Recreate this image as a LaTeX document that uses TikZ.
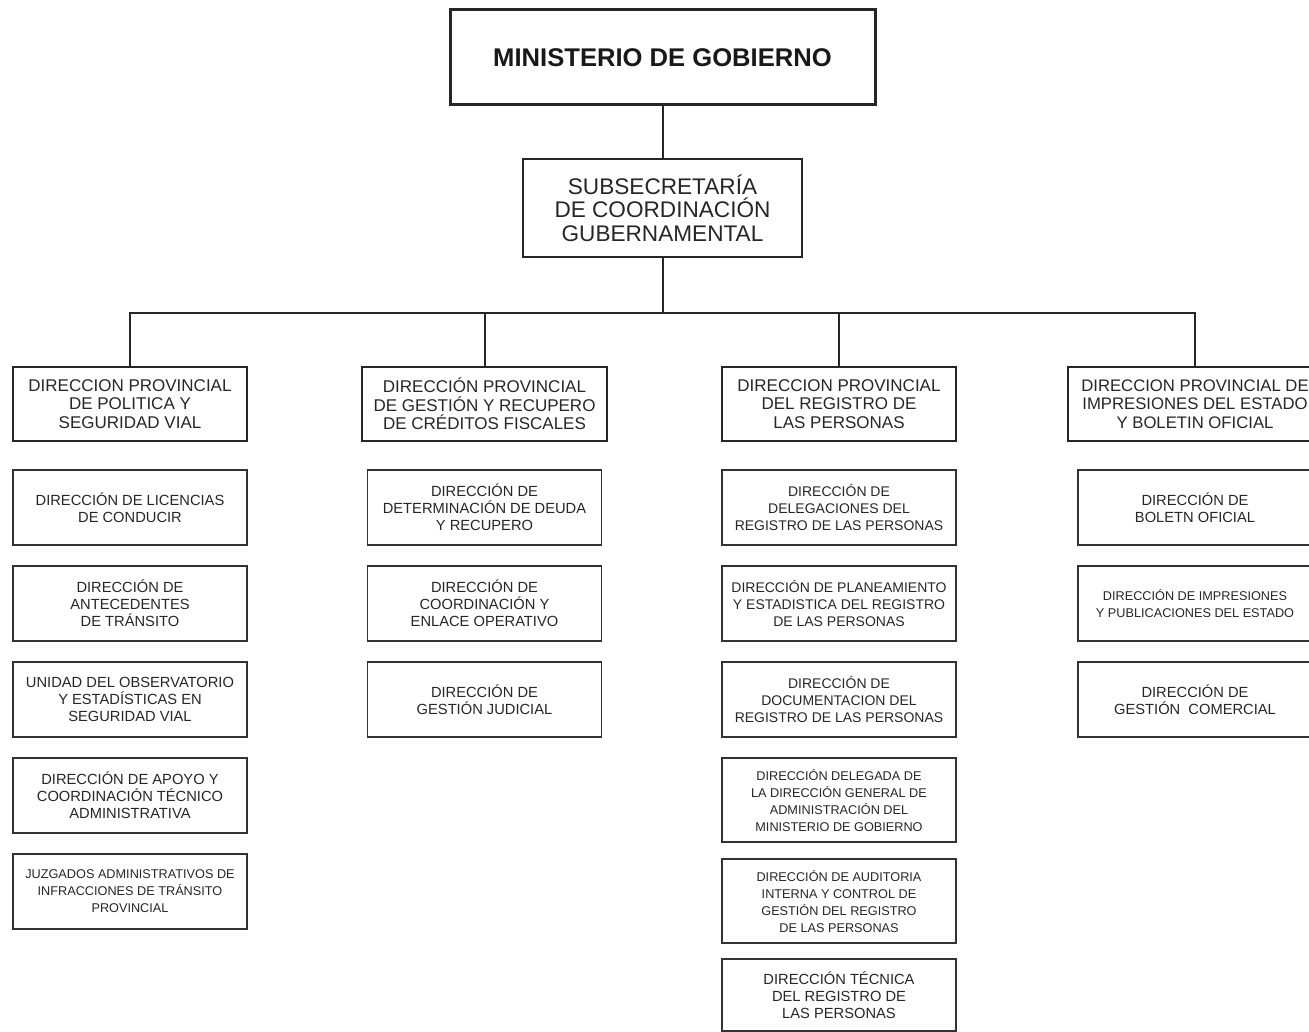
\documentclass[tikz,border=0pt]{standalone}
\usepackage{fontspec}
\setmainfont{Liberation Sans}
\usetikzlibrary{positioning}

\begin{document}
\begin{tikzpicture}[x=1pt,y=-1pt]
        \tikzset{headblock/.style= {draw=black!85, line width=3pt, rectangle, align=center, text=black!90, minimum width=425pt, minimum height=95pt, font=\fontsize{25.6}{30}\selectfont\bfseries},
        subblock/.style={draw=black!85, line width=1.8pt, rectangle, align=center, text=black!85, minimum width=279pt, minimum height=98pt, font=\fontsize{22.6}{23.5}\selectfont},
        block/.style={draw=black!85, line width=2.5pt, rectangle, inner sep=2pt, align=center, text=black!85, minimum width=234pt, minimum height=74pt, font=\fontsize{17}{18.5}\selectfont},
        dblock/.style={draw=black!80, line width=1.6pt, rectangle, inner sep=2pt, align=center, text=black!85, minimum width=234pt, minimum height=75pt, font=\fontsize{14.7}{17}\selectfont},
        sdblock/.style={dblock, font=\fontsize{12.7}{17}\selectfont},
        }
        \useasboundingbox (0,0) rectangle (1309,1032);

        \node [headblock] (ministerio) at (662.5,57.5) {MINISTERIO DE GOBIERNO};
        \node [subblock, below =51.6pt of ministerio] (subsec) {SUBSECRETARÍA\\DE COORDINACIÓN\\GUBERNAMENTAL};
        \node [coordinate, below =55pt of subsec] (bus) {};  %% Coordinate on the horizontal bar

        \node [block] (politica) at (130,404) {DIRECCION PROVINCIAL\\DE POLITICA Y\\SEGURIDAD VIAL};
        \node [block, right =112.5pt of politica, minimum width=245pt] (creditos) {DIRECCIÓN PROVINCIAL\\DE GESTIÓN Y RECUPERO\\DE CRÉDITOS FISCALES};
        \node [block, right =112.5pt of creditos] (registro) {DIRECCION PROVINCIAL\\DEL REGISTRO DE\\LAS PERSONAS};
        \node [block, right =109.5pt of registro, minimum width=254pt, font=\fontsize{16.7}{18.5}\selectfont] (impresiones) {DIRECCION PROVINCIAL DE\\IMPRESIONES DEL ESTADO\\Y BOLETIN OFICIAL};

%% first column
        \node [dblock, below =27pt of politica] (licencias) {DIRECCIÓN DE LICENCIAS\\DE CONDUCIR};
        \node [dblock, below =19.4pt of licencias] (antecedentes) {DIRECCIÓN DE\\ANTECEDENTES\\DE TRÁNSITO};
        \node [dblock, below =19.4pt of antecedentes] (observatorio) {UNIDAD DEL OBSERVATORIO\\Y ESTADÍSTICAS EN\\SEGURIDAD VIAL};
        \node [dblock, below =19.4pt of observatorio] (apoyo) {DIRECCIÓN DE APOYO Y\\COORDINACIÓN TÉCNICO\\ADMINISTRATIVA};
        \node [sdblock, below =19.4pt of apoyo] (juzgados) {JUZGADOS ADMINISTRATIVOS DE\\INFRACCIONES DE TRÁNSITO\\PROVINCIAL};

%% second column
        \node [dblock, below =27pt of creditos] (deuda) {DIRECCIÓN DE\\DETERMINACIÓN DE DEUDA\\Y RECUPERO};
        \node [dblock, below =19.4pt of deuda] (enlace) {DIRECCIÓN DE\\COORDINACIÓN Y\\ENLACE OPERATIVO};
        \node [dblock, below =19.4pt of enlace] (judicial) {DIRECCIÓN DE\\GESTIÓN JUDICIAL};

%% third column
        \node [dblock, below =27pt of registro, font=\fontsize{14}{17}\selectfont] (delegaciones) {DIRECCIÓN DE\\DELEGACIONES DEL\\REGISTRO DE LAS PERSONAS};
        \node [dblock, below =19.4pt of delegaciones, font=\fontsize{14}{17}\selectfont] (planeamiento) {DIRECCIÓN DE PLANEAMIENTO\\Y ESTADISTICA DEL REGISTRO\\DE LAS PERSONAS};
        \node [dblock, below =19.4pt of planeamiento, font=\fontsize{14}{17}\selectfont] (documentacion) {DIRECCIÓN DE\\DOCUMENTACION DEL\\REGISTRO DE LAS PERSONAS};
        \node [sdblock, below =19.4pt of documentacion, minimum height=84pt] (delegada) {DIRECCIÓN DELEGADA DE\\LA DIRECCIÓN GENERAL DE\\ADMINISTRACIÓN DEL\\MINISTERIO DE GOBIERNO};
        \node [sdblock, below =15.4pt of delegada, minimum height=84pt] (auditoria) {DIRECCIÓN DE AUDITORIA\\INTERNA Y CONTROL DE\\GESTIÓN DEL REGISTRO\\DE LAS PERSONAS};
        \node [dblock, below =14.4pt of auditoria, minimum height=72pt] (tecnica) {DIRECCIÓN TÉCNICA\\DEL REGISTRO DE\\LAS PERSONAS};

%% fourth column
        \node [dblock, below =27pt of impresiones] (boletin) {DIRECCIÓN DE\\BOLETN OFICIAL};
        \node [sdblock, below =19.4pt of boletin] (publicaciones) {DIRECCIÓN DE IMPRESIONES\\Y PUBLICACIONES DEL ESTADO};
        \node [dblock, below =19.4pt of publicaciones] (comercial) {DIRECCIÓN DE\\GESTIÓN\ \ COMERCIAL};

%% paths
        \path[draw=black!85, line width=2pt] (ministerio) edge (subsec)
                    (subsec) edge (bus)
                    (politica.north) |- (bus) -| (impresiones.north)
                    (creditos.north) edge (creditos.north |- bus)
                    (registro.north) edge (registro.north |- bus)
                    ;
    \end{tikzpicture}
\end{document}
